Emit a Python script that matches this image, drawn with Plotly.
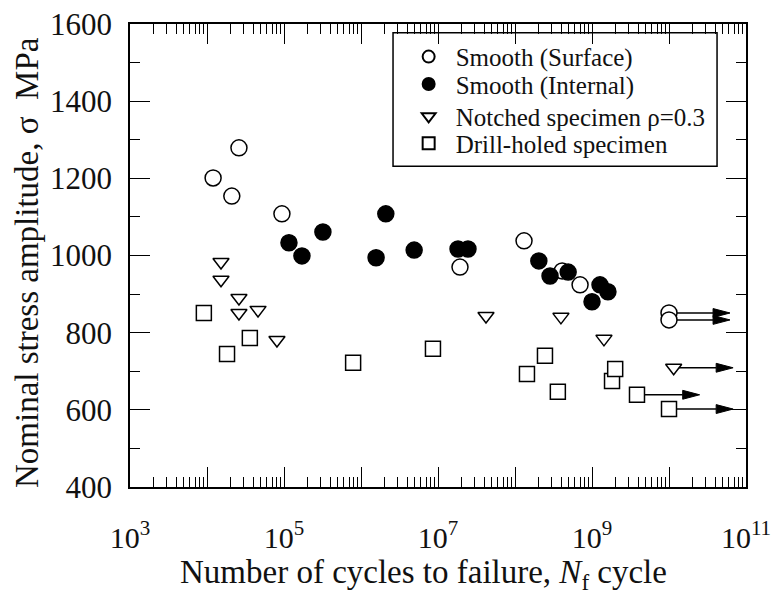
import numpy as np
import plotly.graph_objects as go

# ---------------- data ----------------
surf_N = [1.2e4, 2.1e4, 2.6e4, 9.4e4, 1.93e7, 1.31e8, 4.1e8, 7.0e8, 1.0e10, 1.0e10]
surf_S = [1201, 1154, 1279, 1108, 970, 1038, 960, 924, 851, 833]

int_N = [1.16e5, 1.71e5, 3.2e5, 1.57e6, 2.1e6, 4.9e6, 1.82e7, 2.45e7, 2.04e8, 2.85e8, 4.9e8, 1.0e9, 1.27e9, 1.61e9]
int_S = [1033, 999, 1061, 994, 1108, 1014, 1017, 1017, 986, 947, 957, 880, 924, 906]

notch_N = [1.52e4, 1.52e4, 2.6e4, 2.6e4, 4.6e4, 8.1e4, 4.2e7, 3.95e8, 1.43e9, 1.15e10]
notch_S = [983, 937, 890, 851, 859, 781, 843, 841, 784, 709]

drill_N = [9.1e3, 1.82e4, 3.6e4, 7.9e5, 8.6e6, 1.43e8, 2.45e8, 3.6e8, 1.82e9, 2.0e9, 3.84e9, 1.0e10]
drill_S = [851, 745, 786, 722, 758, 693, 740, 647, 675, 706, 639, 602]

# run-out (unbroken) specimens: start N, stress, arrow tip N
runout_N = [1.0e10, 1.0e10, 1.15e10, 3.84e9, 1.0e10]
runout_S = [851, 833, 709, 639, 602]
runout_tip = [6.2e10, 6.2e10, 6.8e10, 2.5e10, 6.8e10]

x_ticks = [1e3, 1e4, 1e5, 1e6, 1e7, 1e8, 1e9, 1e10, 1e11]
x_ticktext = ["10<sup>3</sup>", "", "10<sup>5</sup>", "", "10<sup>7</sup>", "",
              "10<sup>9</sup>", "", "10<sup>11</sup>"]
y_ticks = [400, 600, 800, 1000, 1200, 1400, 1600]

series_names = ["Smooth (Surface)", "Smooth (Internal)", "Notched specimen ρ=0.3", "Drill-holed specimen"]
x_title = "Number of cycles to failure, <i>N</i><sub>f</sub> cycle"
y_title = "Nominal stress amplitude, σ  MPa"

# ---------------- figure ----------------
FONT = "Liberation Serif"
fig = go.Figure()

# arrows for run-outs (drawn first so markers sit on top)
head_len_dec = 0.22   # arrowhead length in decades
head_half = 11.5      # arrowhead half height in MPa
for n0, s, tip in zip(runout_N, runout_S, runout_tip):
    base = tip / 10 ** head_len_dec
    fig.add_trace(go.Scatter(x=[n0, base], y=[s, s], mode="lines",
                             line=dict(color="black", width=1.5),
                             showlegend=False, hoverinfo="skip"))
    fig.add_trace(go.Scatter(x=[base, tip, base, base], y=[s - head_half, s, s + head_half, s - head_half],
                             mode="lines", fill="toself", fillcolor="black",
                             line=dict(color="black", width=1),
                             showlegend=False, hoverinfo="skip"))

mk_line = dict(color="black", width=1.5)
fig.add_trace(go.Scatter(x=surf_N, y=surf_S, mode="markers", name=series_names[0],
                         legend="legend",
                         marker=dict(symbol="circle", size=16, color="white", line=mk_line)))
fig.add_trace(go.Scatter(x=int_N, y=int_S, mode="markers", name=series_names[1],
                         legend="legend2",
                         marker=dict(symbol="circle", size=16, color="black", line=mk_line)))
fig.add_trace(go.Scatter(x=notch_N, y=notch_S, mode="markers", name=series_names[2],
                         legend="legend3",
                         marker=dict(symbol="triangle-down", size=14, color="white", line=mk_line)))
fig.add_trace(go.Scatter(x=drill_N, y=drill_S, mode="markers", name=series_names[3],
                         legend="legend4",
                         marker=dict(symbol="square", size=15, color="white", line=mk_line)))

minor_x = [m * 10 ** k for k in range(3, 11) for m in range(2, 10)]

fig.update_xaxes(type="log", range=[3, 11], automargin=False,
                 tickmode="array", tickvals=x_ticks, ticktext=x_ticktext,
                 ticks="inside", ticklen=20, tickwidth=1.3, tickcolor="black",
                 minor=dict(tickmode="array", tickvals=minor_x, ticks="inside", ticklen=10,
                            tickwidth=1.2, tickcolor="black", showgrid=False),
                 showline=True, linecolor="black", linewidth=1.5, mirror="allticks",
                 showgrid=False, zeroline=False,
                 tickfont=dict(family=FONT, size=30, color="#111"),
                 ticklabelstandoff=23)
fig.update_yaxes(range=[400, 1600], automargin=False, tickmode="array", tickvals=y_ticks,
                 ticks="inside", ticklen=20, tickwidth=1.3, tickcolor="black",
                 minor=dict(dtick=100, ticks="inside", ticklen=10, tickwidth=1.2,
                            tickcolor="black", showgrid=False),
                 showline=True, linecolor="black", linewidth=1.5, mirror="allticks",
                 showgrid=False, zeroline=False,
                 tickfont=dict(family=FONT, size=31, color="#111"),
                 ticklabelstandoff=10)

# axis titles placed as paper annotations
fig.add_annotation(text=x_title, xref="paper", yref="paper", x=0.477, y=-0.189,
                   xanchor="center", yanchor="middle", showarrow=False,
                   font=dict(family=FONT, size=33, color="#111"))
fig.add_annotation(text=y_title, xref="paper", yref="paper", x=-0.167, y=0.484,
                   xanchor="center", yanchor="middle", showarrow=False, textangle=-90,
                   font=dict(family=FONT, size=33, color="#111"))

# legend frame (drawn as a paper-referenced rectangle)
fig.add_shape(type="rect", xref="paper", yref="paper",
              x0=0.427, x1=0.953, y0=0.693, y1=0.981,
              line=dict(color="black", width=1.5), fillcolor="white", layer="below")

row_y = [0.929, 0.870, 0.800, 0.742]
leg_common = dict(x=0.441, xanchor="left", yanchor="middle",
                  bgcolor="rgba(0,0,0,0)", borderwidth=0, itemsizing="constant",
                  font=dict(family=FONT, size=25, color="#111"), itemwidth=44)

fig.update_layout(
    width=773, height=596,
    margin=dict(l=130, r=27, t=24, b=109),
    paper_bgcolor="white", plot_bgcolor="white",
    font=dict(family=FONT, color="#111"),
    showlegend=True,
    legend=dict(y=row_y[0], **leg_common),
    legend2=dict(y=row_y[1], **leg_common),
    legend3=dict(y=row_y[2], **leg_common),
    legend4=dict(y=row_y[3], **leg_common),
)

fig.write_html("out.html")
